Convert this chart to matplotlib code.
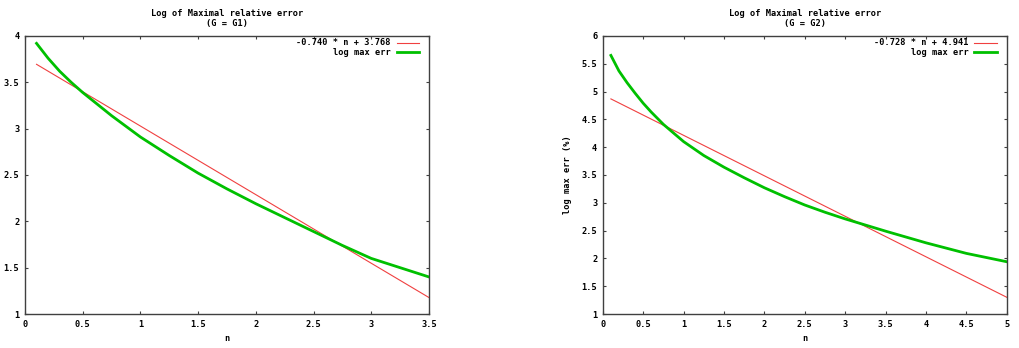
import matplotlib
matplotlib.use('Agg')
import matplotlib.pyplot as plt

# G1 data
n_g1 = [0.1, 0.2, 0.3, 0.4, 0.5, 0.75, 1.0, 1.25, 1.5, 1.75, 2.0, 2.25, 2.5, 2.75, 3.0, 3.25, 3.5]
err_g1 = [3.92, 3.76, 3.62, 3.50, 3.39, 3.14, 2.91, 2.71, 2.52, 2.35, 2.19, 2.04, 1.89, 1.74, 1.60, 1.50, 1.40]
fit_n_g1 = [0.1, 3.5]
fit_g1 = [3.694, 1.178]
fit_label_g1 = '-0.740 * n + 3.768'

# G2 data
n_g2 = [0.1, 0.2, 0.3, 0.4, 0.5, 0.6, 0.75, 1.0, 1.25, 1.5, 1.75, 2.0, 2.25, 2.5, 2.75, 3.0, 3.5, 4.0, 4.5, 5.0]
err_g2 = [5.65, 5.37, 5.16, 4.97, 4.79, 4.63, 4.41, 4.10, 3.85, 3.64, 3.45, 3.27, 3.11, 2.96, 2.83, 2.71,
          2.49, 2.28, 2.09, 1.94]
fit_n_g2 = [0.1, 5.0]
fit_g2 = [4.868, 1.301]
fit_label_g2 = '-0.728 * n + 4.941'

xticks_g1 = [0, 0.5, 1, 1.5, 2, 2.5, 3, 3.5]
yticks_g1 = [1, 1.5, 2, 2.5, 3, 3.5, 4]
xticks_g2 = [0, 0.5, 1, 1.5, 2, 2.5, 3, 3.5, 4, 4.5, 5]
yticks_g2 = [1, 1.5, 2, 2.5, 3, 3.5, 4, 4.5, 5, 5.5, 6]

RED = '#f04040'
GREEN = '#00c000'
FONT = dict(family='DejaVu Sans Mono', weight='bold', size=6.2)


def fmt(v):
    return ('%g' % v)


def draw(ax, n, err, fit_n, fit, fit_label, xticks, yticks, title, ylabel=None):
    ax.plot(fit_n, fit, color=RED, linewidth=0.8)
    ax.plot(n, err, color=GREEN, linewidth=2.0)
    ax.set_xlim(xticks[0], xticks[-1])
    ax.set_ylim(yticks[0], yticks[-1])
    ax.set_xticks(xticks)
    ax.set_yticks(yticks)
    ax.set_xticklabels([fmt(v) for v in xticks], **FONT)
    ax.set_yticklabels([fmt(v) for v in yticks], **FONT)
    ax.tick_params(direction='in', length=2.5, width=0.8, top=True, right=True, pad=4, colors='#404040',
                   labelcolor='black')
    for s in ax.spines.values():
        s.set_color('#404040')
        s.set_linewidth(1.0)
    ax.set_title(title, pad=7, linespacing=1.2, **FONT)
    ax.set_xlabel('n', labelpad=4, **FONT)
    if ylabel:
        ax.set_ylabel(ylabel, labelpad=7, **FONT)
    # gnuplot style key: text right aligned, sample on the right
    for yy, lab, col, lw in [(0.976, fit_label, RED, 0.8), (0.942, 'log max err', GREEN, 2.0)]:
        ax.text(0.905, yy, lab, transform=ax.transAxes, ha='right', va='center', **FONT)
        ax.plot([0.92, 0.976], [yy, yy], transform=ax.transAxes, color=col, linewidth=lw)


fig = plt.figure(figsize=(10.2, 3.48), dpi=100)
ax1 = fig.add_axes([0.0245, 0.0977, 0.396, 0.799])
ax2 = fig.add_axes([0.591, 0.0977, 0.396, 0.799])

draw(ax1, n_g1, err_g1, fit_n_g1, fit_g1, fit_label_g1, xticks_g1, yticks_g1,
     'Log of Maximal relative error\n(G = G1)')
draw(ax2, n_g2, err_g2, fit_n_g2, fit_g2, fit_label_g2, xticks_g2, yticks_g2,
     'Log of Maximal relative error\n(G = G2)', ylabel='log max err (%)')

fig.savefig('out.png', dpi=100)
